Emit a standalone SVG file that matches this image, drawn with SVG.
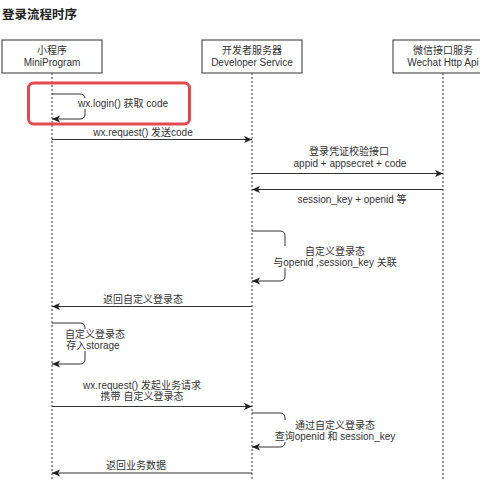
<svg xmlns="http://www.w3.org/2000/svg" width="480" height="480" viewBox="0 0 480 480">
<style>
text{font-family:"Liberation Sans","Noto Sans CJK SC",sans-serif;font-size:10px;fill:#333;text-anchor:middle}
.title{font-size:12.5px;font-weight:bold;text-anchor:start;fill:#222}
.box{fill:#fff;stroke:#333;stroke-width:1}
.life{stroke:#333;stroke-width:1;stroke-dasharray:2,2;fill:none}
.msg{stroke:#333;stroke-width:1;fill:none;marker-end:url(#arr)}
.lbg{fill:#fff}
</style>
<defs>
<marker id="arr" markerWidth="10" markerHeight="8" refX="8" refY="3.5" orient="auto" markerUnits="userSpaceOnUse">
<path d="M0,0 L8,3.5 L0,7 L2,3.5 Z" fill="#222"/>
</marker>
</defs>
<rect width="480" height="480" fill="#fff"/>
<text class="title" x="2" y="19">登录流程时序</text>
<g id="lifelines">
<line class="life" x1="52" y1="73" x2="52" y2="480"/>
<line class="life" x1="252" y1="73" x2="252" y2="480"/>
<line class="life" x1="443" y1="73" x2="443" y2="480"/>
</g>
<g id="miniprogram">
<rect class="box" x="2" y="40" width="100" height="33"/>
<text x="52" y="54">小程序</text>
<text x="52" y="66">MiniProgram</text>
</g>
<g id="developer">
<rect class="box" x="202" y="40" width="100" height="33"/>
<text x="252" y="54">开发者服务器</text>
<text x="252" y="66">Developer Service</text>
</g>
<g id="wechat">
<rect class="box" x="393" y="40" width="100" height="33"/>
<text x="443" y="54">微信接口服务</text>
<text x="443" y="66">Wechat Http Api</text>
</g>
<g id="connectors">
<path class="msg" d="M52,94 H80 Q85,94 85,99 V114 Q85,119 80,119 H52"/>
<path class="msg" d="M52,139.5 H252"/>
<path class="msg" d="M252,173.5 H443"/>
<path class="msg" d="M443,189.5 H252"/>
<path class="msg" d="M252,231 H280 Q285,231 285,236 V276 Q285,281 280,281 H252"/>
<path class="msg" d="M252,306.5 H52"/>
<path class="msg" d="M52,323 H80 Q85,323 85,328 V359 Q85,364 80,364 H52"/>
<path class="msg" d="M52,406.5 H252"/>
<path class="msg" d="M252,413 H280 Q285,413 285,418 V442 Q285,447 280,447 H252"/>
<path class="msg" d="M252,473 H52"/>
</g>
<g id="labels">
<rect class="lbg" x="78" y="98" width="90" height="11"/>
<text x="123" y="106.5">wx.login() 获取 code</text>
<text x="143" y="136">wx.request() 发送code</text>
<text x="349" y="155">登录凭证校验接口</text>
<text x="350" y="167">appid + appsecret + code</text>
<text x="352" y="203">session_key + openid 等</text>
<rect class="lbg" x="273" y="246" width="123" height="22"/>
<text x="335" y="254.5">自定义登录态</text>
<text x="335" y="265.5">与openid ,session_key 关联</text>
<text x="143" y="302.5">返回自定义登录态</text>
<rect class="lbg" x="64" y="329" width="62" height="22"/>
<text x="95" y="337.5">自定义登录态</text>
<text x="93" y="348.5">存入storage</text>
<text x="142" y="388.5">wx.request() 发起业务请求</text>
<text x="142" y="400">携带 自定义登录态</text>
<rect class="lbg" x="275" y="420" width="120" height="22"/>
<text x="335" y="429">通过自定义登录态</text>
<text x="335" y="440">查询openid 和 session_key</text>
<text x="136" y="468.5">返回业务数据</text>
</g>
<g id="highlight">
<rect x="28.5" y="83" width="161" height="41" rx="5" fill="none" stroke="#e5484d" stroke-width="3"/>
</g>
</svg>
